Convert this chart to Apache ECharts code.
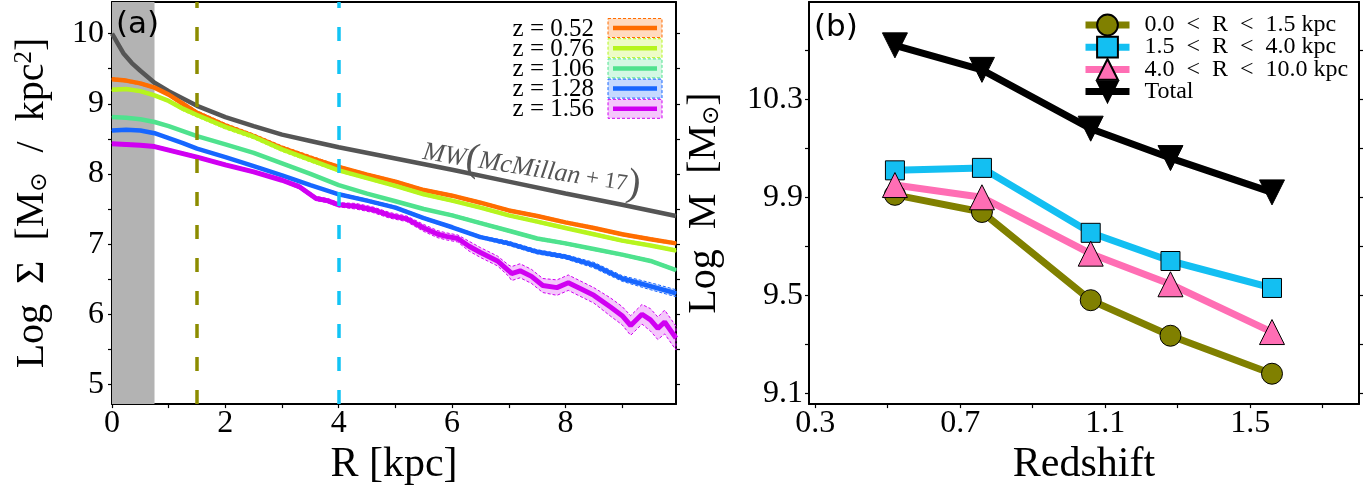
<!DOCTYPE html>
<html><head><meta charset="utf-8">
<script src="https://cdn.jsdelivr.net/npm/echarts@6/dist/echarts.min.js"></script>
<style>html,body{margin:0;padding:0;background:#fff}#c{width:1372px;height:491px}</style>
</head><body><div id="c"></div>
<script>
// ---------- Panel (a): surface density profiles ----------
const R_MAIN = [0,0.25,0.5,0.75,1,1.25,1.5,2,2.5,3,3.5,4,4.5,5,5.5,6,6.5,7,7.5,8,8.5,9,9.5,9.95];
const SIGMA_Z052 = [9.35,9.33,9.29,9.23,9.13,9.00,8.87,8.69,8.54,8.37,8.23,8.10,7.99,7.89,7.77,7.69,7.59,7.48,7.40,7.31,7.23,7.14,7.07,7.01];
const SIGMA_Z076 = [9.20,9.21,9.18,9.12,9.04,8.93,8.84,8.67,8.53,8.35,8.20,8.05,7.94,7.83,7.71,7.62,7.52,7.41,7.32,7.23,7.14,7.05,6.98,6.91];
const SIGMA_Z106 = [8.81,8.80,8.78,8.74,8.68,8.61,8.54,8.42,8.30,8.15,8.00,7.84,7.72,7.61,7.50,7.41,7.30,7.19,7.08,7.01,6.93,6.85,6.76,6.63];
const SIGMA_Z128 = [8.62,8.63,8.62,8.58,8.51,8.44,8.36,8.24,8.11,7.98,7.84,7.71,7.62,7.52,7.37,7.24,7.10,7.01,6.89,6.82,6.70,6.51,6.40,6.30];
const ERR_Z052 = [0.02,0.02,0.02,0.02,0.02,0.03,0.03,0.03,0.03,0.03,0.03,0.02,0.02,0.02,0.02,0.02,0.02,0.02,0.02,0.02,0.02,0.02,0.02,0.02];
const ERR_Z076 = [0.02,0.02,0.02,0.02,0.02,0.03,0.03,0.03,0.03,0.03,0.03,0.02,0.02,0.02,0.02,0.02,0.02,0.02,0.02,0.02,0.02,0.02,0.02,0.02];
const ERR_Z106 = [0.01,0.01,0.01,0.01,0.01,0.01,0.01,0.01,0.01,0.01,0.01,0.01,0.01,0.01,0.01,0.02,0.02,0.02,0.02,0.02,0.02,0.02,0.02,0.02];
const ERR_Z128 = [0.01,0.01,0.01,0.01,0.01,0.01,0.01,0.01,0.01,0.01,0.01,0.02,0.02,0.02,0.02,0.02,0.02,0.03,0.03,0.03,0.04,0.04,0.05,0.05];

const R_Z156 = [0,0.25,0.5,0.75,1,1.5,2,2.5,3,3.3,3.6,3.8,4,4.3,4.6,4.9,5.2,5.5,5.75,5.9,6.1,6.3,6.5,6.8,7.0,7.05,7.2,7.4,7.6,7.85,8.05,8.25,8.5,8.8,9.0,9.15,9.35,9.5,9.63,9.75,9.95];
const SIGMA_Z156 = [8.43,8.42,8.41,8.39,8.34,8.24,8.13,8.03,7.91,7.82,7.65,7.62,7.56,7.54,7.49,7.41,7.36,7.23,7.14,7.11,7.08,6.97,6.88,6.76,6.62,6.58,6.62,6.54,6.41,6.38,6.45,6.37,6.27,6.10,5.98,5.84,6.00,5.92,5.80,5.89,5.66];
const ERR_Z156 = [0.02,0.02,0.02,0.02,0.02,0.02,0.02,0.02,0.02,0.03,0.03,0.03,0.03,0.04,0.04,0.04,0.04,0.05,0.05,0.05,0.05,0.07,0.07,0.07,0.08,0.10,0.10,0.10,0.10,0.11,0.11,0.11,0.11,0.13,0.13,0.14,0.14,0.16,0.16,0.17,0.17];

const R_MW = [0,0.05,0.1,0.2,0.35,0.5,0.75,1,1.5,2,2.5,3,3.5,4,5,6,7,8,9,9.95];
const SIGMA_MW = [10.0,9.93,9.86,9.72,9.58,9.47,9.30,9.18,8.97,8.81,8.68,8.56,8.47,8.38,8.22,8.06,7.89,7.72,7.56,7.40];

const SHADE_R = [0, 0.75];
const VLINES_R = [1.5, 4.0];
const Z_LABELS = ['z = 0.52','z = 0.76','z = 1.06','z = 1.28','z = 1.56'];
const X_TICKS_A = [0,1,2,3,4,5,6,7,8,9];
const X_LABELS_A = [0,2,4,6,8];
const Y_TICKS_A = [5,5.5,6,6.5,7,7.5,8,8.5,9,9.5,10];
const Y_LABELS_A = [5,6,7,8,9,10];

// ---------- Panel (b): mass in radial bins ----------
const REDSHIFT = [0.52, 0.76, 1.06, 1.28, 1.56];
const M_INNER = [9.91, 9.84, 9.48, 9.335, 9.18];
const M_MID = [10.01, 10.02, 9.755, 9.64, 9.53];
const M_OUTER = [9.95, 9.90, 9.67, 9.545, 9.35];
const M_TOTAL = [10.52, 10.42, 10.18, 10.06, 9.92];
const BIN_NAMES = ['0.0  <  R  <  1.5 kpc', '1.5  <  R  <  4.0 kpc', '4.0  <  R  <  10.0 kpc', 'Total'];
const X_TICKS_B = [0.3,0.5,0.7,0.9,1.1,1.3,1.5,1.7];
const X_LABELS_B = [0.3,0.7,1.1,1.5];
const Y_TICKS_B = [9.1,9.3,9.5,9.7,9.9,10.1,10.3,10.5];
const Y_LABELS_B = [9.1,9.5,9.9,10.3];

const SERIF = 'Liberation Serif';
const COLORS_A = ['#ff6d00', '#b6f51e', '#4fe28e', '#1766ff', '#d000f2'];
const BAND_FILL = ['rgba(255,109,0,0.25)','rgba(182,245,30,0.25)','rgba(79,226,142,0.25)','rgba(23,102,255,0.25)','rgba(208,0,242,0.22)'];

function zip(a, b) { return a.map((v, i) => [v, b[i]]); }

function bandSeries(R, S, E, ci) {
  return {
    type: 'custom', xAxisIndex: 0, yAxisIndex: 0, z: 2, silent: true,
    data: [[R[0], S[0]]],
    renderItem: function (params, api) {
      const pts = [];
      for (let i = 0; i < R.length; i++) pts.push(api.coord([R[i], S[i] + E[i]]));
      for (let i = R.length - 1; i >= 0; i--) pts.push(api.coord([R[i], S[i] - E[i]]));
      return { type: 'polygon', shape: { points: pts },
        style: { fill: BAND_FILL[ci], stroke: COLORS_A[ci], lineWidth: 1, lineDash: [3, 2] } };
    }
  };
}
function lineA(R, S, color, w) {
  return { type: 'line', xAxisIndex: 0, yAxisIndex: 0, data: zip(R, S), symbol: 'none', z: 3,
    lineStyle: { color: color, width: w || 4.5 }, silent: true };
}

const axisLineBlack = { show: true, onZero: false, lineStyle: { color: '#000', width: 2 } };
function tickStyle(vals) { return { show: true, inside: false, length: 4, customValues: vals, lineStyle: { color: '#000', width: 1.2 } }; }
const labelFont = { fontFamily: SERIF, fontSize: 32, color: '#000' };

const option = {
  animation: false,
  backgroundColor: '#fff',
  grid: [
    { left: 112, top: 2, width: 564, height: 403 },
    { left: 809, top: 2, width: 550, height: 410 }
  ],
  xAxis: [
    { type: 'value', gridIndex: 0, min: 0, max: 9.95, axisLine: axisLineBlack, splitLine: { show: false },
      axisTick: tickStyle(X_TICKS_A), axisLabel: Object.assign({ customValues: X_LABELS_A, margin: 3 }, labelFont),
      name: 'R [kpc]', nameLocation: 'middle', nameGap: 36, nameTextStyle: { fontFamily: SERIF, fontSize: 42, color: '#000' } },
    { type: 'value', gridIndex: 0, position: 'top', min: 0, max: 9.95, axisLine: axisLineBlack, splitLine: { show: false },
      axisTick: { show: false }, axisLabel: { show: false } },
    { type: 'value', gridIndex: 1, min: 0.283, max: 1.80, axisLine: axisLineBlack, splitLine: { show: false },
      axisTick: tickStyle(X_TICKS_B), axisLabel: Object.assign({ customValues: X_LABELS_B, margin: 3, formatter: v => v.toFixed(1) }, labelFont),
      name: 'Redshift', nameLocation: 'middle', nameGap: 36, nameTextStyle: { fontFamily: SERIF, fontSize: 42, color: '#000' } },
    { type: 'value', gridIndex: 1, position: 'top', min: 0.283, max: 1.80, axisLine: axisLineBlack, splitLine: { show: false },
      axisTick: { show: false }, axisLabel: { show: false } }
  ],
  yAxis: [
    { type: 'value', gridIndex: 0, min: 4.72, max: 10.45, axisLine: axisLineBlack, splitLine: { show: false },
      axisTick: tickStyle(Y_TICKS_A), axisLabel: Object.assign({ customValues: Y_LABELS_A, margin: 8 }, labelFont),
      name: '{t|Log  Σ  [M}{s|⊙}{t|  /  kpc}{p|2}{t|]}', nameLocation: 'middle', nameGap: 60,
      nameTextStyle: { color: '#000', rich: {
        t: { fontFamily: SERIF, fontSize: 40, color: '#000' },
        s: { fontFamily: 'DejaVu Sans', fontSize: 23, color: '#000', verticalAlign: 'bottom', padding: [14, 0, 0, 0] },
        p: { fontFamily: SERIF, fontSize: 25, color: '#000', verticalAlign: 'top', padding: [0, 0, 14, 0] } } } },
    { type: 'value', gridIndex: 0, position: 'right', min: 4.72, max: 10.45, axisLine: axisLineBlack, splitLine: { show: false },
      axisTick: tickStyle(Y_TICKS_A), axisLabel: { show: false } },
    { type: 'value', gridIndex: 1, min: 9.056, max: 10.697, axisLine: axisLineBlack, splitLine: { show: false },
      axisTick: tickStyle(Y_TICKS_B), axisLabel: Object.assign({ customValues: Y_LABELS_B, margin: 6, formatter: v => v.toFixed(1) }, labelFont),
      name: '{t|Log  M  [M}{s|⊙}{t|]}', nameLocation: 'middle', nameGap: 85,
      nameTextStyle: { color: '#000', rich: {
        t: { fontFamily: SERIF, fontSize: 40, color: '#000' },
        s: { fontFamily: 'DejaVu Sans', fontSize: 23, color: '#000', verticalAlign: 'bottom', padding: [14, 0, 0, 0] } } } },
    { type: 'value', gridIndex: 1, position: 'right', min: 9.056, max: 10.697, axisLine: axisLineBlack, splitLine: { show: false },
      axisTick: tickStyle(Y_TICKS_B), axisLabel: { show: false } }
  ],
  legend: {
    data: BIN_NAMES, orient: 'vertical', left: 1077, top: 8,
    itemWidth: 44, itemHeight: 26, itemGap: -1.8,
    lineStyle: { width: 'inherit' },
    textStyle: { fontFamily: SERIF, fontSize: 24, color: '#000', padding: [0, 0, 0, 10] },
    selectedMode: false
  },
  series: [
    { type: 'line', xAxisIndex: 0, yAxisIndex: 0, data: [], z: 1, silent: true,
      markArea: { silent: true, itemStyle: { color: '#b3b3b3', opacity: 1 },
        data: [[{ xAxis: SHADE_R[0] }, { xAxis: SHADE_R[1] }]] } },
    bandSeries(R_MAIN, SIGMA_Z052, ERR_Z052, 0),
    bandSeries(R_MAIN, SIGMA_Z076, ERR_Z076, 1),
    bandSeries(R_MAIN, SIGMA_Z106, ERR_Z106, 2),
    bandSeries(R_MAIN, SIGMA_Z128, ERR_Z128, 3),
    bandSeries(R_Z156, SIGMA_Z156, ERR_Z156, 4),
    lineA(R_MW, SIGMA_MW, '#555555', 4.5),
    lineA(R_MAIN, SIGMA_Z052, COLORS_A[0]),
    lineA(R_MAIN, SIGMA_Z076, COLORS_A[1]),
    lineA(R_MAIN, SIGMA_Z106, COLORS_A[2]),
    lineA(R_MAIN, SIGMA_Z128, COLORS_A[3]),
    lineA(R_Z156, SIGMA_Z156, COLORS_A[4], 5),
    { type: 'line', xAxisIndex: 0, yAxisIndex: 0, data: [], z: 6, silent: true,
      markLine: { silent: true, symbol: ['none', 'none'], label: { show: false },
        lineStyle: { type: [14, 19], width: 3.5 },
        data: [ { xAxis: VLINES_R[0], lineStyle: { color: '#8c8c00', type: [14, 19], width: 3.5 } },
                { xAxis: VLINES_R[1], lineStyle: { color: '#12c4f5', type: [14, 19], width: 3.5 } } ] } },
    { name: BIN_NAMES[0], type: 'line', xAxisIndex: 2, yAxisIndex: 2, data: zip(REDSHIFT, M_INNER),
      symbol: 'circle', symbolSize: 21, lineStyle: { color: '#808000', width: 7 },
      itemStyle: { color: '#808000', borderColor: '#000', borderWidth: 1 } },
    { name: BIN_NAMES[1], type: 'line', xAxisIndex: 2, yAxisIndex: 2, data: zip(REDSHIFT, M_MID),
      symbol: 'rect', symbolSize: 19, lineStyle: { color: '#13bff2', width: 7 },
      itemStyle: { color: '#13bff2', borderColor: '#000', borderWidth: 1 } },
    { name: BIN_NAMES[2], type: 'line', xAxisIndex: 2, yAxisIndex: 2, data: zip(REDSHIFT, M_OUTER),
      symbol: 'triangle', symbolSize: 25, lineStyle: { color: '#ff6eb4', width: 7 },
      itemStyle: { color: '#ff6eb4', borderColor: '#000', borderWidth: 1 } },
    { name: BIN_NAMES[3], type: 'line', xAxisIndex: 2, yAxisIndex: 2, data: zip(REDSHIFT, M_TOTAL),
      symbol: 'triangle', symbolRotate: 180, symbolSize: 25, lineStyle: { color: '#000', width: 7 },
      itemStyle: { color: '#000', borderColor: '#000', borderWidth: 1 } }
  ],
  graphic: []
};

// Panel (a) legend (shaded-band swatches)
const LEG_X = 608, LEG_Y0 = 18.5, LEG_DY = 20.2;
Z_LABELS.forEach((lab, i) => {
  const y = LEG_Y0 + LEG_DY * i;
  option.graphic.push({ type: 'rect', z: 100, shape: { x: LEG_X, y: y, width: 54, height: 19 },
    style: { fill: BAND_FILL[i], stroke: COLORS_A[i], lineWidth: 1, lineDash: [3, 2] } });
  option.graphic.push({ type: 'line', z: 101, shape: { x1: LEG_X + 5, y1: y + 9.5, x2: LEG_X + 49, y2: y + 9.5 },
    style: { stroke: COLORS_A[i], lineWidth: 4.5 } });
  option.graphic.push({ type: 'text', z: 101, x: 594, y: y + 10.5,
    style: { text: lab, fontFamily: SERIF, fontSize: 25, fill: '#000', textAlign: 'right', textVerticalAlign: 'middle' } });
});
// MW annotation
option.graphic.push({ type: 'text', z: 100, x: 423, y: 152, rotation: -9 * Math.PI / 180,
  style: { text: '{a|MW}{b|(}{a|McMillan}{c| + 17}{b|)}', textVerticalAlign: 'middle', textAlign: 'left',
    rich: { a: { fontFamily: SERIF, fontStyle: 'italic', fontSize: 26, fill: '#555' },
            b: { fontFamily: SERIF, fontSize: 40, fill: '#555' },
            c: { fontFamily: SERIF, fontSize: 23, fill: '#555' } } } });
// Panel letters
option.graphic.push({ type: 'text', z: 100, x: 116, y: 25,
  style: { text: '(a)', fontFamily: 'DejaVu Sans', fontSize: 31, fill: '#000', textVerticalAlign: 'middle' } });
option.graphic.push({ type: 'text', z: 100, x: 814, y: 28,
  style: { text: '(b)', fontFamily: 'DejaVu Sans', fontSize: 31, fill: '#000', textVerticalAlign: 'middle' } });

const chart = echarts.init(document.getElementById('c'), null, { renderer: 'canvas' });
chart.setOption(option);
</script></body></html>
